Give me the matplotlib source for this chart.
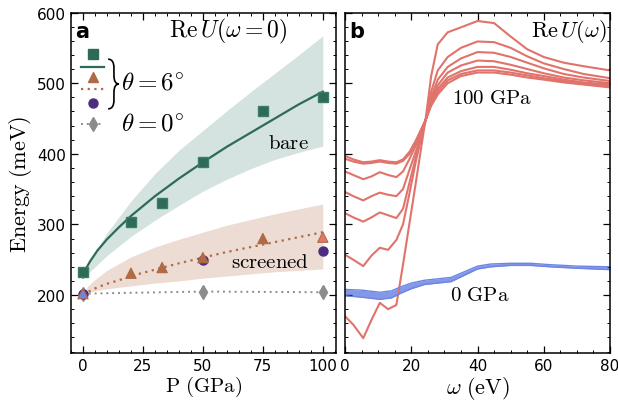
import matplotlib
matplotlib.use("Agg")
import matplotlib.pyplot as plt
from matplotlib.path import Path
from matplotlib.patches import PathPatch
from matplotlib.ticker import MultipleLocator, AutoMinorLocator

plt.rcParams['mathtext.fontset'] = 'cm'

# ---- panel a: static U vs pressure ----
p_bare = [0, 20, 33, 50, 75, 100]
u_bare = [232, 304, 330, 389, 461, 481]
p_scr = [0, 20, 33, 50, 75, 100]
u_scr = [202, 231, 239, 253, 280, 282]
scr_face = ['#6d86e3', '#b06a45', '#b06a45', '#b06a45', '#b06a45', '#e4786e']
p_circ = [0, 50, 100]
u_circ = [202, 249, 262]
p_flat = [0, 50, 100]
u_flat = [202, 205, 204]

p_fit = [0, 1, 3, 6, 10, 15, 20, 30, 40, 50, 60, 70, 80, 90, 100]
fit_bare = [225, 236, 248, 263, 279, 296, 312, 340, 365, 388, 410, 430, 450, 470, 488]
fit_scr = [200, 203, 206, 211, 216, 221, 227, 236, 245, 253, 261, 268, 275, 282, 289]

p_band = [0, 2, 5, 10, 20, 30, 40, 50, 60, 70, 80, 90, 100]
bare_hi = [225, 242, 260, 288, 333, 372, 405, 433, 461, 488, 514, 540, 567]
bare_lo = [225, 230, 240, 256, 283, 306, 327, 347, 364, 379, 392, 402, 411]
scr_hi = [200, 213, 222, 235, 254, 268, 279, 289, 299, 307, 315, 322, 329]
scr_lo = [200, 203, 206, 209, 213, 217, 220, 224, 227, 230, 233, 235, 237]

# ---- panel b: Re U(omega) ----
w_red = [0, 2.5, 5.5, 8, 10.5, 13, 15.5, 17.5, 19.5, 21.5, 23, 24.5, 26, 28,
         31, 35, 40, 45, 50, 55, 60, 66, 72, 80]
red_curves = [
    [397, 392, 388, 389, 391, 389, 388, 392, 403, 420, 435, 450, 468, 484,
     500, 510, 515, 515, 512, 508, 505, 501, 498, 494],
    [393, 389, 386, 387, 389, 387, 386, 390, 400, 417, 433, 450, 470, 488,
     504, 513, 518, 518, 515, 511, 507, 503, 500, 496],
    [375, 370, 364, 368, 374, 370, 367, 375, 393, 413, 430, 450, 472, 492,
     508, 517, 523, 523, 519, 514, 510, 505, 501, 498],
    [346, 340, 334, 340, 345, 342, 340, 350, 378, 405, 427, 450, 476, 497,
     515, 525, 532, 531, 526, 520, 514, 508, 504, 500],
    [316, 310, 304, 310, 317, 313, 309, 322, 360, 397, 424, 450, 480, 505,
     523, 535, 544, 543, 537, 529, 521, 513, 508, 503],
    [257, 250, 241, 256, 267, 264, 278, 300, 345, 392, 422, 452, 488, 518,
     537, 550, 559, 558, 550, 538, 528, 520, 513, 507],
    [170, 158, 139, 165, 189, 180, 186, 243, 303, 363, 409, 455, 510, 555,
     572, 579, 588, 585, 566, 548, 537, 529, 524, 518],
]
w_blue = [0, 5, 10.5, 14, 17, 20, 24, 28, 32, 36, 40, 44, 50, 56, 62, 70, 80]
blue_hi = [208, 207, 204, 206, 212, 217, 221, 223, 225, 233, 241, 244, 245, 245, 243, 241, 240]
blue_lo = [199, 197, 194, 196, 203, 209, 215, 217, 219, 228, 237, 240, 242, 242, 240, 238, 236]

GREEN = '#2d6b57'
BROWN = '#b06a45'
PURPLE = '#4b2d7f'
GRAY = '#8c8c8c'
RED = '#e0736b'
BLUE = '#6d86e3'


def style_axes(ax):
    ax.tick_params(which='both', direction='in', top=True, right=True, labelsize=11)
    ax.tick_params(which='major', length=5, width=0.9)
    ax.tick_params(which='minor', length=2.5, width=0.7)
    ax.yaxis.set_major_locator(MultipleLocator(100))
    ax.yaxis.set_minor_locator(AutoMinorLocator(5))
    for s in ax.spines.values():
        s.set_linewidth(1.1)


def draw_brace(ax, x0, xm, xt, y0, y1):
    ym = 0.5 * (y0 + y1)
    d = 0.025
    verts = [(x0, y1), (xm, y1), (xm, y1 - d), (xm, ym + d), (xm, ym), (xt, ym),
             (xm, ym), (xm, ym - d), (xm, y0 + d), (xm, y0), (x0, y0)]
    codes = [Path.MOVETO, Path.CURVE3, Path.CURVE3, Path.LINETO, Path.CURVE3, Path.CURVE3,
             Path.CURVE3, Path.CURVE3, Path.LINETO, Path.CURVE3, Path.CURVE3]
    ax.add_patch(PathPatch(Path(verts, codes), fill=False, lw=1.2, color='black',
                           transform=ax.transAxes, clip_on=False))


fig = plt.figure(figsize=(6.18, 4.02), dpi=100)
ax1 = fig.add_axes([0.1149, 0.1194, 0.4288, 0.847])
ax2 = fig.add_axes([0.5583, 0.1194, 0.4288, 0.847])

# panel a
ax1.fill_between(p_band, bare_lo, bare_hi, color='#d4e3df', lw=0)
ax1.fill_between(p_band, scr_lo, scr_hi, color='#eddcd3', lw=0)
ax1.plot(p_fit, fit_bare, color=GREEN, lw=1.6)
ax1.plot(p_fit, fit_scr, color=BROWN, lw=1.6, ls=(0, (1, 2)))
ax1.plot(p_flat, u_flat, color=GRAY, lw=1.4, ls=(0, (1, 2)))
ax1.plot(p_flat, u_flat, 'd', color=GRAY, ms=7, ls='none')
ax1.plot(p_circ, u_circ, 'o', color=PURPLE, ms=6.5, ls='none')
ax1.scatter(p_scr, u_scr, marker='^', s=55, c=scr_face, edgecolors=BROWN, linewidths=0.8, zorder=3)
ax1.plot(p_bare, u_bare, 's', color=GREEN, ms=7, mec='#3d7d68', ls='none', zorder=4)

ax1.set_xlim(-5, 105.5)
ax1.set_ylim(118, 600)
ax1.xaxis.set_major_locator(MultipleLocator(25))
ax1.xaxis.set_minor_locator(AutoMinorLocator(5))
style_axes(ax1)
ax1.set_xlabel(r'$\mathrm{P\ (GPa)}$', fontsize=15, labelpad=1)
ax1.set_ylabel(r'$\mathrm{Energy\ (meV)}$', fontsize=16, labelpad=2)

ax1.text(0.015, 0.975, 'a', transform=ax1.transAxes, fontsize=15, fontweight='bold',
         va='top', ha='left')
ax1.text(60.5, 574, r'$\mathrm{Re}\,U(\omega=0)$', fontsize=17, ha='center', va='center')
ax1.text(85.5, 417, r'$\mathrm{bare}$', fontsize=15, ha='center', va='center')
ax1.text(78, 248, r'$\mathrm{screened}$', fontsize=15, ha='center', va='center')

# legend drawn by hand
tr = ax1.transAxes
ax1.plot([0.083], [0.878], 's', color=GREEN, ms=7, transform=tr)
ax1.plot([0.038, 0.125], [0.840, 0.840], color=GREEN, lw=1.6, transform=tr)
ax1.plot([0.083], [0.811], '^', color=BROWN, ms=7.5, transform=tr)
ax1.plot([0.038, 0.125], [0.775, 0.775], color=BROWN, lw=1.6, ls=(0, (1, 2)), transform=tr)
ax1.plot([0.083], [0.734], 'o', color=PURPLE, ms=6.5, transform=tr)
ax1.plot([0.038, 0.125], [0.673, 0.673], color=GRAY, lw=1.4, ls=(0, (1, 2)), transform=tr)
ax1.plot([0.083], [0.673], 'd', color=GRAY, ms=7, transform=tr)
draw_brace(ax1, 0.14, 0.162, 0.181, 0.717, 0.863)
ax1.text(0.19, 0.796, r'$\theta=6^{\circ}$', transform=tr, fontsize=18, va='center', ha='left')
ax1.text(0.19, 0.676, r'$\theta=0^{\circ}$', transform=tr, fontsize=18, va='center', ha='left')

# panel b
for curve in red_curves:
    ax2.plot(w_red, curve, color=RED, lw=1.5)
ax2.fill_between(w_blue, blue_lo, blue_hi, color=BLUE, lw=0, alpha=0.85)
ax2.plot(w_blue, blue_hi, color=BLUE, lw=1.0)
ax2.plot(w_blue, blue_lo, color=BLUE, lw=1.0)

ax2.set_xlim(0, 80)
ax2.set_ylim(118, 600)
ax2.xaxis.set_major_locator(MultipleLocator(20))
ax2.xaxis.set_minor_locator(AutoMinorLocator(4))
style_axes(ax2)
ax2.set_yticklabels([])
ax2.set_xlabel(r'$\omega\ (\mathrm{eV})$', fontsize=16, labelpad=1)

ax2.text(0.015, 0.975, 'b', transform=ax2.transAxes, fontsize=15, fontweight='bold',
         va='top', ha='left')
ax2.text(79, 574, r'$\mathrm{Re}\,U(\omega)$', fontsize=16, ha='right', va='center')
ax2.text(44.4, 480, r'$\mathrm{100\ GPa}$', fontsize=15, ha='center', va='center')
ax2.text(40.6, 202, r'$\mathrm{0\ GPa}$', fontsize=15, ha='center', va='center')

fig.savefig('out.png', dpi=100)
